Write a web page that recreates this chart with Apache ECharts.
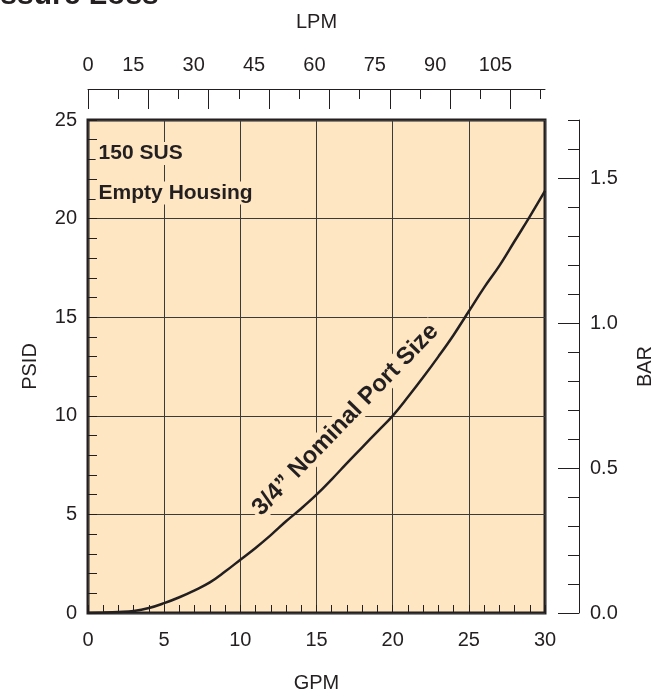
<!DOCTYPE html>
<html><head><meta charset="utf-8">
<script src="https://cdn.jsdelivr.net/npm/echarts@6/dist/echarts.min.js"></script>
<style>html,body{margin:0;padding:0;background:#fff}#c{width:663px;height:698px}</style>
</head><body><div id="c"></div>
<script>
// ---- data ----
const flowGPM = [0,1,2,3,4,5,6,7,8,9,10,11,12,13,14,15,16,17,18,19,20,21,22,23,24,25,26,27,28,29,30];
const dropPSID = [0,0.02,0.05,0.1,0.25,0.5,0.8,1.15,1.55,2.1,2.7,3.3,3.95,4.65,5.3,6.0,6.78,7.6,8.4,9.2,10.0,10.95,11.95,13.0,14.1,15.3,16.5,17.6,18.85,20.1,21.4];
const lpmMajorTicks = [0,15,30,45,60,75,90,105];
const lpmMinorTicks = [7.5,22.5,37.5,52.5,67.5,82.5,97.5,112.5];
const barMajorTicks = [0,0.5,1.0,1.5];
const barMinorTicks = [0.1,0.2,0.3,0.4,0.6,0.7,0.8,0.9,1.1,1.2,1.3,1.4,1.6,1.7];
const seriesName = '3/4\u201D Nominal Port Size';
const note1 = '150 SUS';
const note2 = 'Empty Housing';
const titleText = 'Pressure Loss';
const LPM_PER_GPM = 3.78541;

const INK = '#231f20';
const BG = '#fde6c1';
const FONT = '"Liberation Sans", Arial, Helvetica, sans-serif';
const lblStyle = {color: INK, fontSize: 20, fontFamily: FONT};

const chart = echarts.init(document.getElementById('c'), null, {renderer: 'canvas'});
const option = {
  animation: false,
  backgroundColor: '#ffffff',
  grid: {left: 88, right: 118, top: 120, bottom: 80, show: true, backgroundColor: BG, borderColor: INK, borderWidth: 3},
  xAxis: [
    { type: 'value', position: 'bottom', min: 0, max: 30, interval: 5,
      axisLine: {show: false, onZero: false},
      axisTick: {show: true, inside: true, length: 8, lineStyle: {color: INK, width: 1}},
      minorTick: {show: true, splitNumber: 5, length: 8, lineStyle: {color: INK, width: 1}},
      splitLine: {show: true, lineStyle: {color: '#3a3a3a', width: 1}},
      axisLabel: Object.assign({margin: 17}, lblStyle),
      name: 'GPM', nameLocation: 'middle', nameGap: 60, nameTextStyle: lblStyle },
    { type: 'value', position: 'top', offset: 31, min: 0, max: 30 * LPM_PER_GPM,
      axisLine: {show: true, onZero: false, lineStyle: {color: INK, width: 1}},
      axisTick: {show: true, inside: true, length: 20, customValues: lpmMajorTicks, lineStyle: {color: INK, width: 1}},
      splitLine: {show: false},
      axisLabel: Object.assign({margin: 14, customValues: lpmMajorTicks,
        formatter: v => v === 0 ? '{z|0}' : '{s|' + v + '}',
        rich: {z: {fontSize: 20, fontFamily: FONT, color: INK}, s: {fontSize: 20, fontFamily: FONT, color: INK, padding: [0, 30, 0, 0]}}}, lblStyle),
      name: 'LPM', nameLocation: 'middle', nameGap: 57, nameTextStyle: lblStyle },
    { type: 'value', position: 'top', offset: 31, min: 0, max: 30 * LPM_PER_GPM,
      axisLine: {show: false, onZero: false},
      axisTick: {show: true, inside: true, length: 10, customValues: lpmMinorTicks, lineStyle: {color: INK, width: 1}},
      splitLine: {show: false},
      axisLabel: {show: false} }
  ],
  yAxis: [
    { type: 'value', position: 'left', min: 0, max: 25, interval: 5,
      axisLine: {show: false, onZero: false},
      axisTick: {show: true, inside: true, length: 9, lineStyle: {color: INK, width: 1}},
      minorTick: {show: true, splitNumber: 5, length: 9, lineStyle: {color: INK, width: 1}},
      splitLine: {show: true, lineStyle: {color: '#3a3a3a', width: 1}},
      axisLabel: Object.assign({margin: 11}, lblStyle),
      name: 'PSID', nameLocation: 'middle', nameGap: 48, nameRotate: 90, nameTextStyle: lblStyle },
    { type: 'value', position: 'right', offset: 34, min: 0, max: 1.7,
      axisLine: {show: true, onZero: false, lineStyle: {color: INK, width: 1}},
      axisTick: {show: true, inside: true, length: 21, customValues: barMajorTicks, lineStyle: {color: INK, width: 1}},
      splitLine: {show: false},
      axisLabel: Object.assign({margin: 11, customValues: barMajorTicks, formatter: v => v.toFixed(1)}, lblStyle),
      name: 'BAR', nameLocation: 'middle', nameGap: 56, nameRotate: 90, nameTextStyle: lblStyle },
    { type: 'value', position: 'right', offset: 34, min: 0, max: 1.7,
      axisLine: {show: false, onZero: false},
      axisTick: {show: true, inside: true, length: 11, customValues: barMinorTicks, lineStyle: {color: INK, width: 1}},
      splitLine: {show: false},
      axisLabel: {show: false} }
  ],
  series: [{
    name: seriesName, type: 'line', xAxisIndex: 0, yAxisIndex: 0,
    data: flowGPM.map((g, i) => [g, dropPSID[i]]),
    smooth: 0.4, showSymbol: false, symbol: 'none',
    lineStyle: {color: INK, width: 2.5}, z: 5
  }]
};
chart.setOption(option);

const p1 = chart.convertToPixel({xAxisIndex: 0, yAxisIndex: 0}, [0.5, 23.3]);
const p2 = chart.convertToPixel({xAxisIndex: 0, yAxisIndex: 0}, [0.5, 21.3]);
const pc = chart.convertToPixel({xAxisIndex: 0, yAxisIndex: 0}, [16.9, 9.8]);
const boldText = {fill: INK, fontWeight: 'bold', fontFamily: FONT, backgroundColor: BG};
chart.setOption({
  graphic: [
    {type: 'text', x: p1[0], y: p1[1], z: 3, style: Object.assign({text: note1, fontSize: 21, align: 'left', verticalAlign: 'middle', padding: [1, 3]}, boldText)},
    {type: 'text', x: p2[0], y: p2[1], z: 3, style: Object.assign({text: note2, fontSize: 21, align: 'left', verticalAlign: 'middle', padding: [1, 3]}, boldText)},
    {type: 'text', x: pc[0], y: pc[1], z: 3, rotation: 46 * Math.PI / 180, style: Object.assign({text: seriesName, fontSize: 24, align: 'center', verticalAlign: 'middle', padding: [0, 3]}, boldText)},
    {type: 'text', x: -48, y: -4, z: 3, style: {text: titleText, fill: INK, fontSize: 30, fontWeight: 'bold', fontFamily: FONT, align: 'left', verticalAlign: 'middle'}}
  ]
});
</script>
</body></html>
